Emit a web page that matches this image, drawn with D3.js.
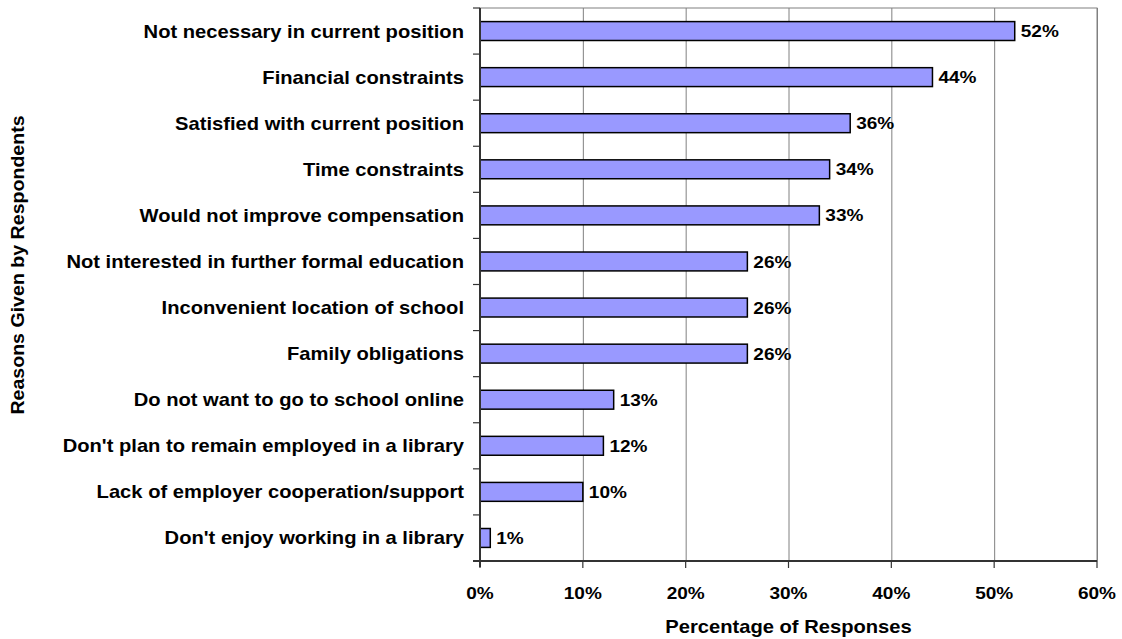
<!DOCTYPE html>
<html><head><meta charset="utf-8">
<script src="https://cdn.jsdelivr.net/npm/d3@7"></script>
<style>body{margin:0;background:#fff}text{font-family:"Liberation Sans",Arial,sans-serif;font-weight:bold}</style>
</head><body><svg id="c" width="1122" height="639"></svg>
<script>
const categories = ["Not necessary in current position","Financial constraints","Satisfied with current position","Time constraints","Would not improve compensation","Not interested in further formal education","Inconvenient location of school","Family obligations","Do not want to go to school online","Don't plan to remain employed in a library","Lack of employer cooperation/support","Don't enjoy working in a library"];
const values = [52,44,36,34,33,26,26,26,13,12,10,1];
const xTicks = [0,10,20,30,40,50,60];

const svg = d3.select("#c");
const L=480,R=1097,T=8,B=561;
const x = d3.scaleLinear().domain([0,60]).range([L,R]);
const y = d3.scaleBand().domain(categories).range([T,B]).paddingInner(0.59).paddingOuter(0.295);
const band = d3.scaleBand().domain(categories).range([T,B]);
const SX = 1.12;

svg.append("rect").attr("x",L).attr("y",T).attr("width",R-L).attr("height",B-T).attr("fill","none").attr("stroke","#808080").attr("stroke-width",1);
svg.append("g").selectAll("line").data(xTicks.slice(1)).join("line")
  .attr("x1",d=>x(d)+0.5).attr("x2",d=>x(d)+0.5).attr("y1",T).attr("y2",B)
  .attr("stroke","#808080").attr("stroke-width",1);
svg.append("g").selectAll("rect").data(values).join("rect")
  .attr("x",L).attr("y",(d,i)=>y(categories[i])).attr("width",d=>x(d)-L).attr("height",y.bandwidth())
  .attr("fill","#9999FF").attr("stroke","#000").attr("stroke-width",1.5);
svg.append("g").selectAll("text").data(values).join("text")
  .attr("transform",(d,i)=>`translate(${x(d)+6},${y(categories[i])+y.bandwidth()/2}) scale(${SX},1)`).attr("dy","0.36em")
  .attr("font-size",17).text(d=>d+"%");
const ya = svg.append("g");
ya.append("line").attr("x1",L).attr("x2",L).attr("y1",T).attr("y2",B+6).attr("stroke","#333").attr("stroke-width",2);
const bounds = d3.range(categories.length+1).map(i=>T+i*band.step());
ya.selectAll("line.t").data(bounds).join("line").attr("class","t")
  .attr("x1",L-7).attr("x2",L).attr("y1",d=>d).attr("y2",d=>d).attr("stroke","#333").attr("stroke-width",1.2);
ya.selectAll("text").data(categories).join("text")
  .attr("transform",d=>`translate(464,${band(d)+band.bandwidth()/2}) scale(${SX},1)`).attr("dy","0.36em").attr("text-anchor","end")
  .attr("font-size",18).text(d=>d);
const xa = svg.append("g");
xa.append("line").attr("x1",L-7).attr("x2",R).attr("y1",B).attr("y2",B).attr("stroke","#333").attr("stroke-width",2);
xa.selectAll("line.t").data(xTicks).join("line").attr("class","t")
  .attr("x1",d=>x(d)).attr("x2",d=>x(d)).attr("y1",B).attr("y2",B+7).attr("stroke","#333").attr("stroke-width",1.2);
xa.selectAll("text").data(xTicks).join("text")
  .attr("transform",d=>`translate(${x(d)},593) scale(${SX},1)`).attr("dy","0.36em").attr("text-anchor","middle")
  .attr("font-size",17).text(d=>d+"%");
svg.append("text").attr("transform",`translate(${x(30)},627) scale(${SX},1)`).attr("dy","0.36em").attr("text-anchor","middle").attr("font-size",18).text("Percentage of Responses");
svg.append("text").attr("transform",`translate(18,265) rotate(-90) scale(${SX},1)`).attr("dy","0.36em").attr("text-anchor","middle").attr("font-size",17.5).text("Reasons Given by Respondents");
</script></body></html>
